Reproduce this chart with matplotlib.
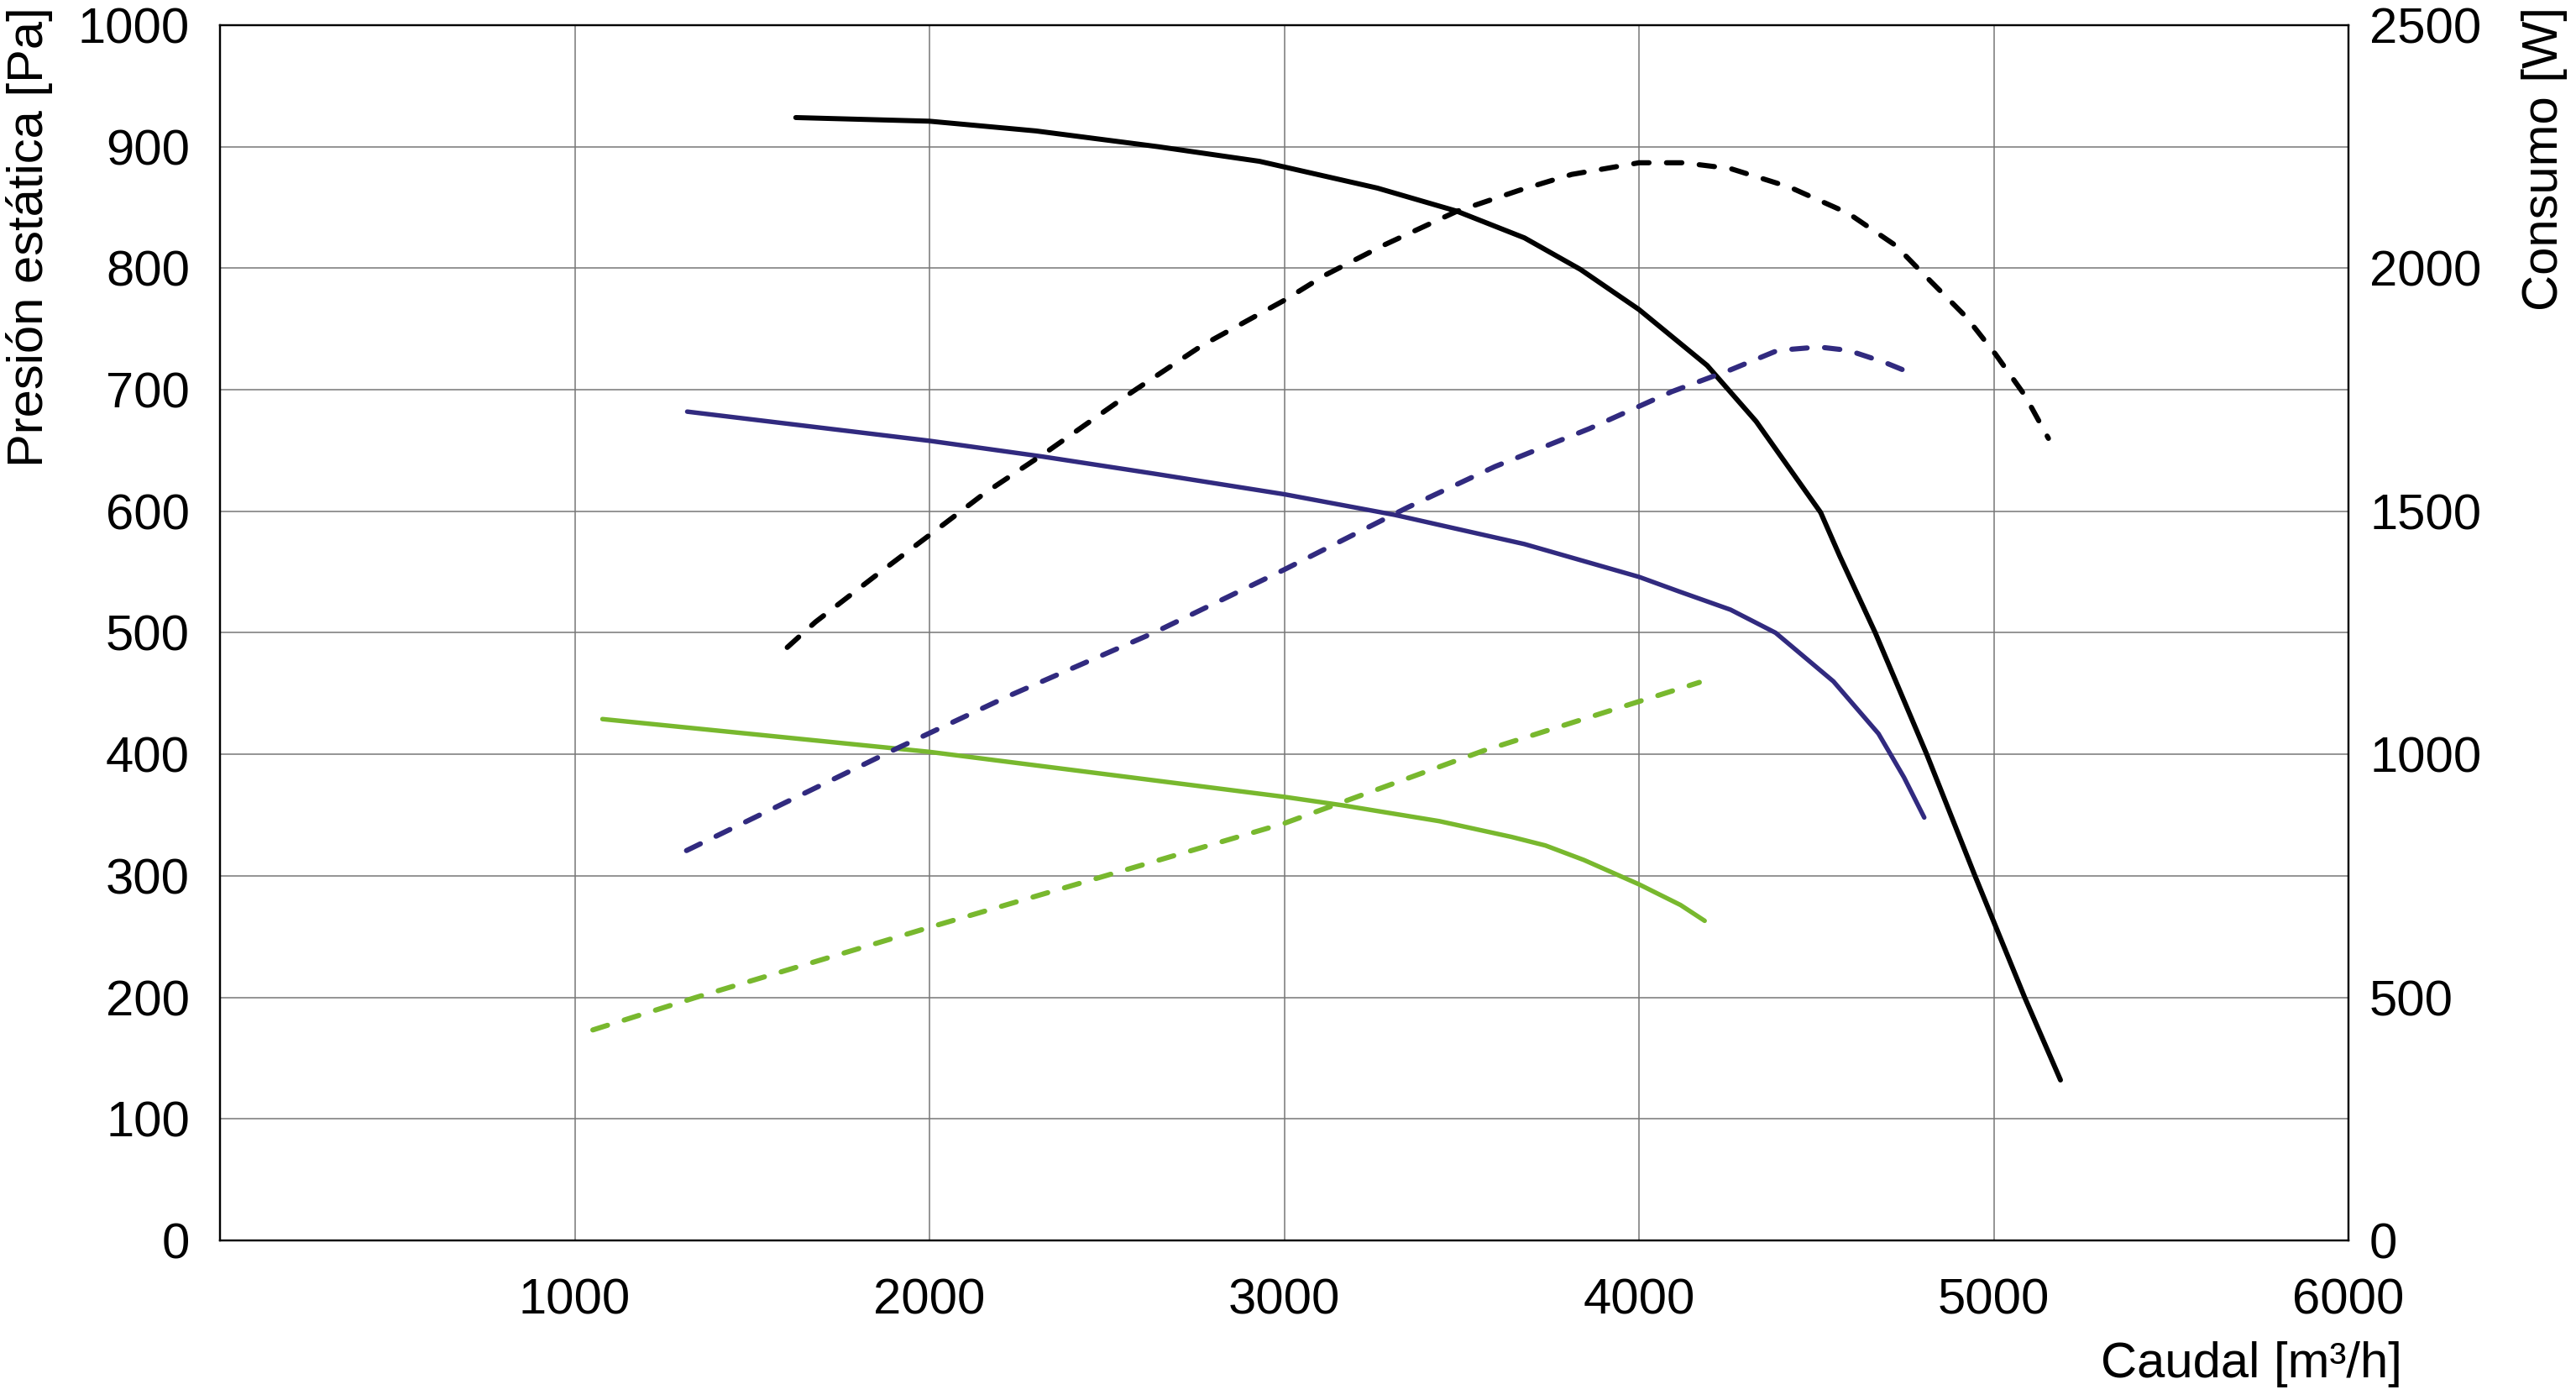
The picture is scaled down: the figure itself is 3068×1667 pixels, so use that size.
import matplotlib.pyplot as plt

plt.rcParams['font.family'] = ['Liberation Sans', 'DejaVu Sans']

# caudal [m3/h] vs presion estatica [Pa] (solid) / consumo [W] (dashed)
black_p_x = [1623, 2000, 2300, 2645, 2930, 3262, 3486, 3677, 3835, 4000, 4192, 4330,
             4512, 4566, 4666, 4811, 4947, 5087, 5188]
black_p_y = [924, 921, 913, 900, 888, 866, 847, 825, 799, 766, 720, 674,
             599, 563, 500, 400, 300, 200, 132]

black_w_x = [1599, 1678, 1856, 2000, 2155, 2332, 2564, 2768, 3000, 3113, 3279, 3486,
             3661, 3810, 4000, 4125, 4258, 4424, 4590, 4723, 4806, 4922, 5005, 5088, 5154]
black_w_y = [1220, 1272, 1372, 1451, 1537, 1623, 1742, 1841, 1934, 1985, 2047, 2117,
             2160, 2193, 2217, 2217, 2205, 2167, 2113, 2047, 1985, 1900, 1823, 1738, 1650]

blue_p_x = [1317, 2000, 2319, 2632, 3000, 3312, 3677, 4000, 4113, 4258, 4385, 4548,
            4675, 4747, 4804]
blue_p_y = [682, 658, 645, 631, 614, 597, 573, 546, 534, 519, 500, 460,
            417, 381, 348]

blue_w_x = [1315, 1896, 2223, 2632, 3000, 3345, 3594, 3860, 4092, 4258, 4391, 4507,
            4590, 4690, 4781]
blue_w_y = [802, 1008, 1120, 1250, 1380, 1507, 1592, 1670, 1746, 1791, 1831, 1838,
            1831, 1807, 1780]

green_p_x = [1078, 2000, 3000, 3165, 3437, 3641, 3736, 3845, 4000, 4117, 4185]
green_p_y = [429, 402, 365, 358, 345, 332, 325, 313, 293, 276, 263]

green_w_x = [1051, 1342, 2000, 3000, 3560, 4170]
green_w_y = [433, 500, 644, 858, 1007, 1148]

x_ticks = [1000, 2000, 3000, 4000, 5000, 6000]
y_ticks = list(range(0, 1001, 100))
y2_ticks = list(range(0, 2501, 500))

BLUE = '#312a7f'
GREEN = '#78b82e'
DASH = (0, (3.0, 3.4))

fig = plt.figure(figsize=(30.68, 16.67), dpi=100)
ax = fig.add_axes([0.0854, 0.114, 0.9117 - 0.0854, 0.982 - 0.114])
ax2 = ax.twinx()

ax.plot(black_p_x, black_p_y, color='black', lw=4.3, solid_capstyle='round',
        solid_joinstyle='round', zorder=5)
ax.plot(blue_p_x, blue_p_y, color=BLUE, lw=3.9, solid_capstyle='round',
        solid_joinstyle='round', zorder=5)
ax.plot(green_p_x, green_p_y, color=GREEN, lw=3.9, solid_capstyle='round',
        solid_joinstyle='round', zorder=5)

ax2.plot(black_w_x, black_w_y, color='black', lw=4.4, ls=DASH, dash_capstyle='round')
ax2.plot(blue_w_x, blue_w_y, color=BLUE, lw=4.4, ls=DASH, dash_capstyle='round')
ax2.plot(green_w_x, green_w_y, color=GREEN, lw=4.4, ls=DASH, dash_capstyle='round')

ax.set_xlim(0, 6000)
ax.set_ylim(0, 1000)
ax2.set_ylim(0, 2500)

ax.set_xticks(x_ticks)
ax.set_yticks(y_ticks)
ax2.set_yticks(y2_ticks)

ax.grid(True, color='#777777', lw=1.1)
ax.set_axisbelow(True)

ax.tick_params(axis='both', length=0, labelsize=43)
ax.tick_params(axis='y', pad=26)
ax.tick_params(axis='x', pad=32)
ax2.tick_params(axis='y', length=0, labelsize=43, pad=18)

for a in (ax, ax2):
    for s in a.spines.values():
        s.set_linewidth(1.6)
        s.set_color('black')

fig.text(35 / 3068, 1 - 8 / 1667, 'Presión estática [Pa]', rotation=90,
         ha='center', va='top', fontsize=43)
fig.text(3030 / 3068, 1 - 8 / 1667, 'Consumo [W]', rotation=90,
         ha='center', va='top', fontsize=43)
fig.text(2861 / 3068, 1 - 1624 / 1667, 'Caudal [m³/h]', ha='right', va='center', fontsize=43)

fig.savefig('out.png', dpi=100, facecolor='white')
